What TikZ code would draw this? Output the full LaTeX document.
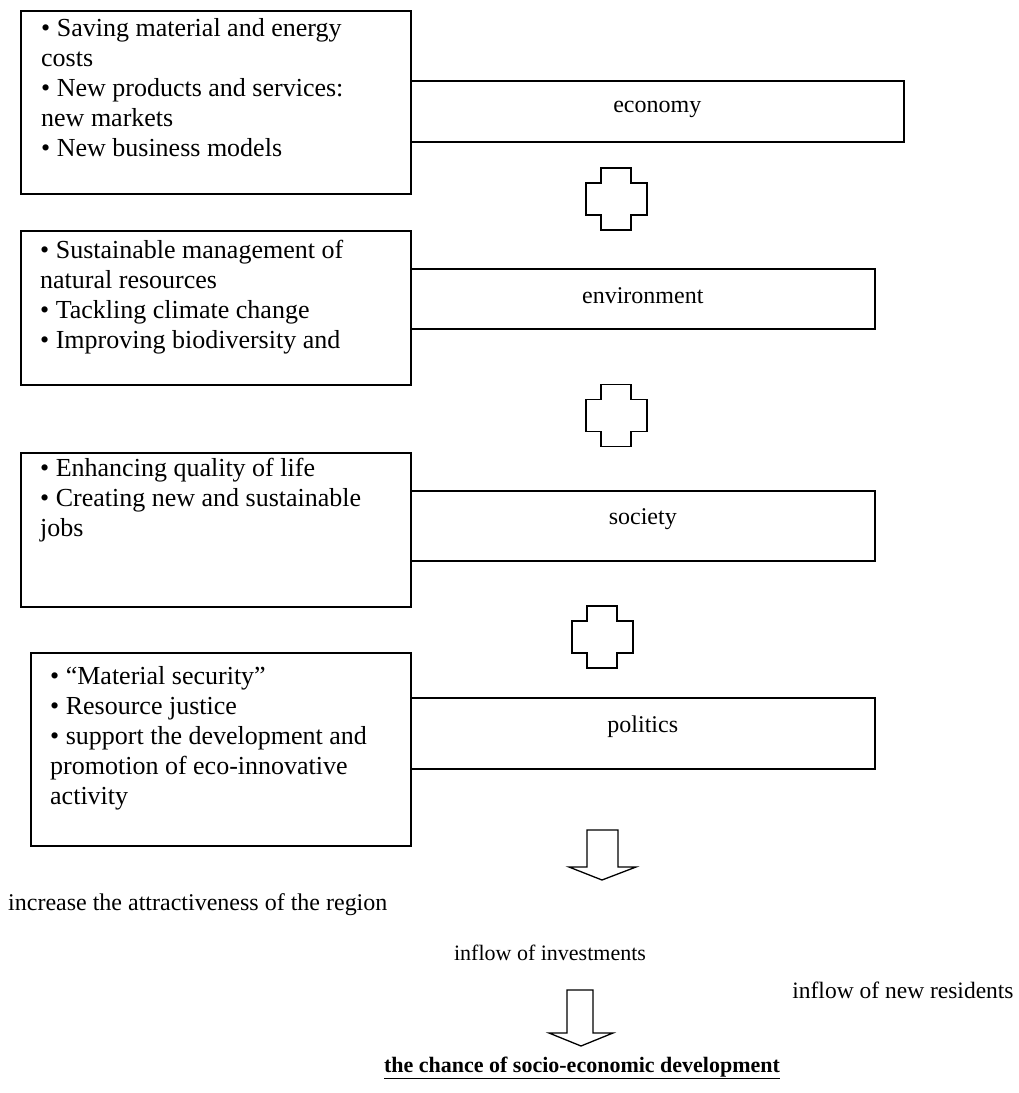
\documentclass[tikz,border=0pt]{standalone}
\usepackage{fontspec}
\setmainfont{Liberation Serif}
\begin{document}
\begin{tikzpicture}[x=1pt,y=-1pt,
  box/.style={draw,line width=1.6pt,anchor=north west,inner sep=0pt},
  txt/.style={anchor=north west,inner sep=0pt,align=left,font=\fontsize{26}{30}\selectfont},
  lbl/.style={inner sep=0pt,font=\fontsize{24}{27}\selectfont},
  outl/.style={draw,line width=1.6pt},
  arr/.style={draw,line width=1.3pt,line join=miter},
  plusshape/.pic={
    \draw[outl] (-15,-31) -- (15,-31) -- (15,-16) -- (31,-16) -- (31,16) -- (15,16)
      -- (15,31) -- (-15,31) -- (-15,16) -- (-30,16) -- (-30,-16) -- (-15,-16) -- cycle;
  }]
\useasboundingbox (0,0) rectangle (1018,1093);

% left boxes
\node[box,minimum width=390pt,minimum height=183pt] (b1) at (20,10) {};
\node[box,minimum width=390pt,minimum height=154pt] (b2) at (20,230) {};
\node[box,minimum width=390pt,minimum height=154pt] (b3) at (20,452) {};
\node[box,minimum width=380pt,minimum height=193pt] (b4) at (30,652) {};

\node[txt] (t1) at (41,18) {• Saving material and energy\\costs\\• New products and services:\\new markets\\• New business models};
\node[txt] (t2) at (40,240) {• Sustainable management of\\natural resources\\• Tackling climate change\\• Improving biodiversity and};
\node[txt] (t3) at (40,458) {• Enhancing quality of life\\• Creating new and sustainable\\jobs};
\node[txt] (t4) at (50,666) {• “Material security”\\• Resource justice\\• support the development and\\promotion of eco-innovative\\activity};

% category boxes
\node[box,minimum width=493pt,minimum height=61pt] (c1) at (410,80) {};
\node[lbl] (c1t) at ([yshift=1.5pt]c1.center) {economy};
\node[box,minimum width=464pt,minimum height=60pt] (c2) at (410,268) {};
\node[lbl] (c2t) at ([yshift=3pt]c2.center) {environment};
\node[box,minimum width=464pt,minimum height=70pt] (c3) at (410,490) {};
\node[lbl] (c3t) at ([yshift=7pt]c3.center) {society};
\node[box,minimum width=464pt,minimum height=71pt] (c4) at (410,697) {};
\node[lbl] (c4t) at ([yshift=7pt]c4.center) {politics};

% plus signs
\pic at (616,199) {plusshape};
\pic at (616,415.5) {plusshape};
\pic at (602,637) {plusshape};

% arrows
\draw[arr] (587,830) -- (618,830) -- (618,867) -- (636,867) -- (602,880) -- (569,867) -- (587,867) -- cycle;
\draw[arr] (567,990) -- (593,990) -- (593,1033) -- (613,1033) -- (581,1046) -- (549,1033) -- (567,1033) -- cycle;

% labels
\node[lbl,anchor=west] (l1) at (8,905) {increase the attractiveness of the region};
\node[lbl,font=\fontsize{22}{25}\selectfont] (l2) at (550,953) {inflow of investments};
\node[lbl,font=\fontsize{23.5}{26}\selectfont] (l3) at (903,990) {inflow of new residents};
\node[lbl,font=\fontsize{22}{25}\selectfont] (l4) at (582,1068) {\textbf{\underline{the chance of socio-economic development}}};
\end{tikzpicture}
\end{document}
